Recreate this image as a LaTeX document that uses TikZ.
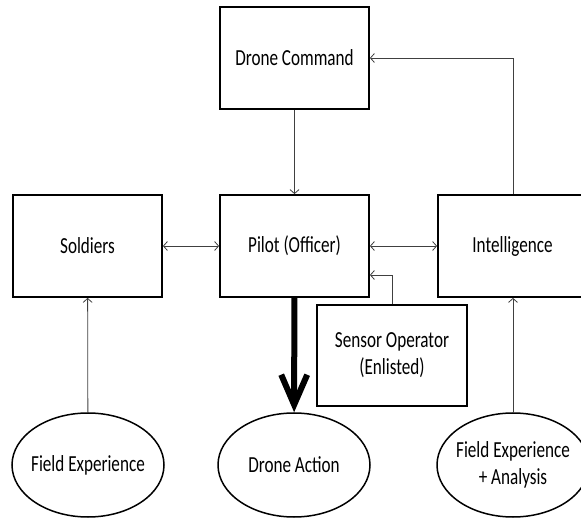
\documentclass[tikz,border=0pt]{standalone}
\usepackage{fontspec}
\setmainfont{Carlito}
\usetikzlibrary{arrows.meta,shapes.geometric}
\newcommand\sq[1]{\scalebox{0.745}[1]{#1}}
\begin{document}
\begin{tikzpicture}[x=1pt,y=-1pt,
  boxnode/.style={draw=black,line width=1.8pt,minimum width=149pt,minimum height=102pt,inner sep=0pt,font=\fontsize{23}{27}\selectfont,align=center},
  ovalnode/.style={draw=black,line width=1.5pt,ellipse,inner xsep=-40pt,inner ysep=-10pt,minimum width=152pt,minimum height=104pt,font=\fontsize{23}{27}\selectfont,align=center},
  conn/.style={line width=0.8pt,draw=black!75},
  tip/.style={-{Straight Barb[length=4pt,width=9pt]}},
  bitip/.style={{Straight Barb[length=4pt,width=9pt]}-{Straight Barb[length=4pt,width=9pt]}}]
\clip (0,0) rectangle (581,518);
\node[boxnode] (cmd) at (294.5,58) {\sq{Drone Command}};
\node[boxnode] (pilot) at (294.5,246) {\sq{Pilot (Officer)}};
\node[boxnode] (sold) at (87.5,246) {\sq{Soldiers}};
\node[boxnode] (intel) at (512.5,246) {\sq{Intelligence}};
\node[boxnode,line width=1.5pt,minimum width=150pt,minimum height=101pt] (sensor) at (392,355.5) {\sq{Sensor Operator}\\\sq{(Enlisted)}};
\node[ovalnode] (fe1) at (88,465) {\sq{Field Experience}};
\node[ovalnode] (act) at (294,465) {\sq{Drone Action}};
\node[ovalnode] (fe2) at (513,465) {\sq{Field Experience}\\\sq{+ Analysis}};
\coordinate (c1) at (513,58);
\coordinate (c2) at (392,275);
\draw[conn,tip] (cmd) -- (pilot);
\draw[conn,tip] (intel.north -| c1) -- (c1) -- (cmd.east |- c1);
\draw[conn,bitip] (sold) -- (pilot);
\draw[conn,bitip] (pilot) -- (intel);
\draw[conn,tip] (sensor.north) -- (c2) -- (pilot.east |- c2);
\draw[conn,tip] (fe1) -- (sold);
\draw[conn,tip] (fe2.north -| c1) -- (intel.south -| c1);
\draw[line width=6pt,-{Straight Barb[length=30pt,width=26pt]}] (pilot) -- (act);
\end{tikzpicture}
\end{document}
